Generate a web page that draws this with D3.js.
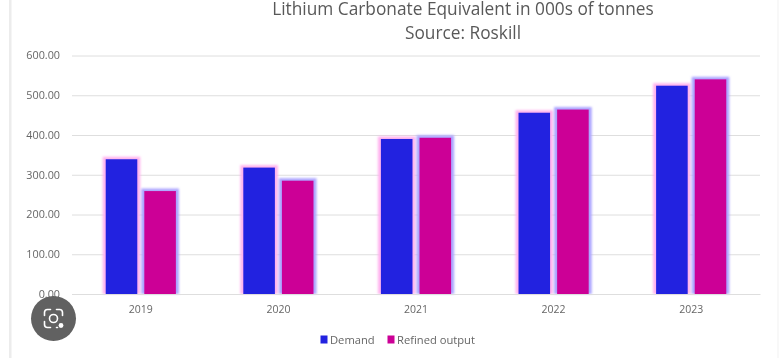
<!DOCTYPE html>
<html>
<head>
<meta charset="utf-8">
<script src="https://cdn.jsdelivr.net/npm/d3@7"></script>
<style>
html,body{margin:0;padding:0;background:#fff;overflow:hidden}
svg{display:block}
text{font-family:"Open Sans","Noto Sans",sans-serif}
</style>
</head>
<body>
<svg id="c" width="783" height="358"></svg>
<script>
const titleLines = ["Lithium Carbonate Equivalent in 000s of tonnes", "Source: Roskill"];
const years = ["2019", "2020", "2021", "2022", "2023"];
const seriesNames = ["Demand", "Refined output"];
const demand = [339, 318, 390, 456, 524];
const refinedOutput = [259, 285, 393, 464, 540];
const yTicks = [0, 100, 200, 300, 400, 500, 600];
const colors = ["#2020e0", "#cc0096"];
const glows = ["#ffb4ee", "#aca4ff"];

const svg = d3.select("#c");
const W = 783, H = 358;
const m = {left: 72, right: 760, top: 55.5, bottom: 294};

const defs = svg.append("defs");
defs.append("filter").attr("id", "soft").append("feGaussianBlur").attr("stdDeviation", 0.4);
defs.append("filter").attr("id", "glow")
  .attr("x", "-30%").attr("y", "-30%").attr("width", "160%").attr("height", "160%")
  .append("feGaussianBlur").attr("stdDeviation", 1.2);

svg.append("rect").attr("width", W).attr("height", H).attr("fill", "#fff");
// card edges of the screenshot
svg.append("rect").attr("x", 9).attr("y", 0).attr("width", 2.5).attr("height", H).attr("fill", "#ececec");
svg.append("rect").attr("x", 777.5).attr("y", 0).attr("width", 1).attr("height", H).attr("fill", "#f2f2f2");

const root = svg.append("g").attr("filter", "url(#soft)");

const x0 = d3.scaleBand().domain(years).range([m.left, m.right]).paddingInner(0.49).paddingOuter(0.245);
const x1 = d3.scaleBand().domain(seriesNames).range([0, x0.bandwidth()]).paddingInner(0.182);
const y = d3.scaleLinear().domain([0, 600]).range([m.bottom, m.top]);

// y axis: gridlines and labels
const yAxis = d3.axisLeft(y).tickValues(yTicks).tickFormat(d3.format(".2f"))
  .tickSize(m.left - m.right).tickPadding(12);
const gy = root.append("g").attr("transform", `translate(${m.left},0)`).call(yAxis);
gy.select(".domain").remove();
gy.selectAll(".tick line").attr("stroke", "#dedede").attr("stroke-width", 1);
gy.selectAll(".tick text").attr("fill", "#666").attr("font-size", 10.8);

// bars
const rows = [demand, refinedOutput];
seriesNames.forEach((name, i) => {
  const data = years.map((yr, j) => ({yr, v: rows[i][j]}));
  root.append("g").attr("filter", "url(#glow)").selectAll("rect").data(data).join("rect")
    .attr("x", d => x0(d.yr) + x1(name) - 3)
    .attr("y", d => y(d.v) - 2.5)
    .attr("width", x1.bandwidth() + 6)
    .attr("height", d => y(0) - y(d.v) + 2.5)
    .attr("fill", glows[i]);
  root.append("g").selectAll("rect").data(data).join("rect")
    .attr("x", d => x0(d.yr) + x1(name))
    .attr("y", d => y(d.v))
    .attr("width", x1.bandwidth())
    .attr("height", d => y(0) - y(d.v))
    .attr("fill", colors[i]);
});

// x axis
const xAxis = d3.axisBottom(x0).tickSize(0).tickPadding(12);
const gx = root.append("g").attr("transform", `translate(0,${m.bottom})`).call(xAxis);
gx.select(".domain").attr("stroke", "#dedede");
gx.selectAll(".tick text").attr("fill", "#666").attr("font-size", 10.5);

// title
root.selectAll(".title").data(titleLines).join("text").attr("class", "title")
  .attr("x", 463).attr("y", (d, i) => 15 + i * 23.5)
  .attr("text-anchor", "middle").attr("font-size", 17.3).attr("fill", "#595959").text(d => d);

// legend
const legendSwatchX = [320.5, 387.5];
const legend = root.selectAll(".lg").data(seriesNames).join("g").attr("class", "lg")
  .attr("transform", (d, i) => `translate(${legendSwatchX[i]},335.5)`);
legend.append("rect").attr("width", 7).attr("height", 8).attr("fill", (d, i) => colors[i]);
legend.append("text").attr("x", 9.5).attr("y", 8).attr("font-size", 11.2).attr("fill", "#666").text(d => d);

// image-search badge over the corner of the screenshot
const badge = svg.append("g").attr("transform", "translate(53.5,318.5)");
badge.append("circle").attr("r", 22.5).attr("fill", "#616161");
badge.append("path")
  .attr("d", "M-9,-3 V-6 Q-9,-9 -6,-9 H-3 M3,-9 H6 Q9,-9 9,-6 V-3 M-9,3 V6 Q-9,9 -6,9 H-3 M3,9 H4")
  .attr("fill", "none").attr("stroke", "#fff").attr("stroke-width", 1.6).attr("stroke-linecap", "round");
badge.append("circle").attr("r", 4).attr("fill", "none").attr("stroke", "#fff").attr("stroke-width", 1.6);
badge.append("circle").attr("cx", 7.5).attr("cy", 7).attr("r", 2.4).attr("fill", "#fff");
</script>
</body>
</html>
